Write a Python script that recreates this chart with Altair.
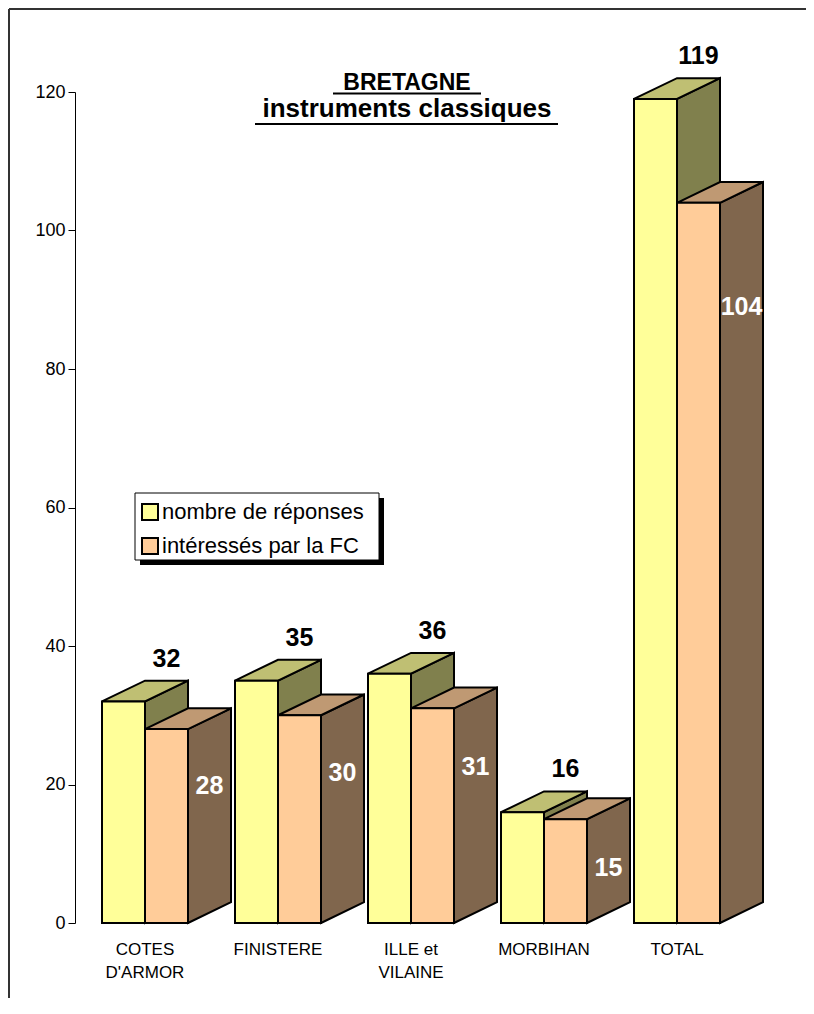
import altair as alt
import pandas as pd

# ---- data ----
categories = ["COTES D'ARMOR", "FINISTERE", "ILLE et VILAINE", "MORBIHAN", "TOTAL"]
cat_labels = ["COTES\nD'ARMOR", "FINISTERE", "ILLE et\nVILAINE", "MORBIHAN", "TOTAL"]
reponses = [32, 35, 36, 16, 119]
interesses = [28, 30, 31, 15, 104]
series_names = ["nombre de réponses", "intéressés par la FC"]
y_ticks = [0, 20, 40, 60, 80, 100, 120]
title_lines = ["BRETAGNE", "instruments classiques"]

# ---- layout constants ----
W, H = 731, 831
GROUP0, STEP, BW = 27, 133, 43   # x units = pixels from plot left
DX, DY = 43, 3.0                 # 3D depth (x pixels, y value units)
FONT = "Liberation Sans"

FRONT = ["#FFFF99", "#FFCC99"]
TOP = ["#BFBF73", "#BF9973"]
SIDE = ["#80804D", "#80664D"]

xscale = alt.Scale(domain=[0, W], nice=False, zero=False)
yscale = alt.Scale(domain=[0, 120], nice=False)
yaxis = alt.Axis(values=y_ticks, title=None, grid=False, domainColor="black",
                 tickColor="black", tickSize=7, labelFontSize=18, labelFont=FONT,
                 labelColor="black", labelPadding=3, domainWidth=1, tickWidth=1)


def geom(values, offset):
    fronts, sides, tops = [], [], []
    for i, v in enumerate(values):
        xl = GROUP0 + STEP * i + offset * BW
        xr = xl + BW
        fronts.append(dict(bar=i, x=xl, x2=xr, lo=0, hi=v))
        sides.append(dict(bar=i, x=xr, lo=0, hi=v))
        sides.append(dict(bar=i, x=xr + DX, lo=DY, hi=v + DY))
        for x in sorted(set([xl, xl + DX, xr, xr + DX])):
            lo = v + DY * max(0.0, min(1.0, (x - xr) / DX))
            hi = v + DY * max(0.0, min(1.0, (x - xl) / DX))
            tops.append(dict(bar=i, x=x, lo=lo, hi=hi))
    return pd.DataFrame(fronts), pd.DataFrame(sides), pd.DataFrame(tops)


def X(f):
    return alt.X(f, scale=xscale, axis=None, title=None)


def Y(f):
    return alt.Y(f, scale=yscale, axis=yaxis, title=None)


layers = []
for s, vals in enumerate([reponses, interesses]):
    fr, sd, tp = geom(vals, s)
    layers.append(alt.Chart(sd).mark_area(fill=SIDE[s], stroke="black", strokeWidth=2,
                                           strokeJoin="miter", opacity=1).encode(
        x=X("x:Q"), y=Y("lo:Q"), y2="hi:Q", detail="bar:N"))
    layers.append(alt.Chart(tp).mark_area(fill=TOP[s], stroke="black", strokeWidth=2,
                                           strokeJoin="miter", opacity=1).encode(
        x=X("x:Q"), y=Y("lo:Q"), y2="hi:Q", detail="bar:N"))
    layers.append(alt.Chart(fr).mark_rect(fill=FRONT[s], stroke="black", strokeWidth=2).encode(
        x=X("x:Q"), x2="x2:Q", y=Y("lo:Q"), y2="hi:Q"))

# value labels
lab_rep = pd.DataFrame(dict(
    x=[GROUP0 + STEP * i + BW + DX / 2 for i in range(len(reponses))],
    y=[v + DY for v in reponses],
    t=[str(v) for v in reponses]))
layers.append(alt.Chart(lab_rep).mark_text(font=FONT, fontSize=25, fontWeight="bold",
                                           color="black", baseline="alphabetic", dy=-14).encode(
    x=X("x:Q"), y=Y("y:Q"), text="t:N"))

lab_int = pd.DataFrame(dict(
    x=[GROUP0 + STEP * i + 2 * BW + DX / 2 for i in range(len(interesses))],
    y=[0.91 * v - 5.7 for v in interesses],
    t=[str(v) for v in interesses]))
layers.append(alt.Chart(lab_int).mark_text(font=FONT, fontSize=25, fontWeight="bold",
                                           color="white", baseline="middle").encode(
    x=X("x:Q"), y=Y("y:Q"), text="t:N"))

# category labels
cat_df = pd.DataFrame(dict(
    x=[GROUP0 + STEP * i + BW for i in range(len(categories))],
    t=cat_labels))
layers.append(alt.Chart(cat_df).mark_text(font=FONT, fontSize=17, color="black",
                                          baseline="alphabetic", lineBreak="\n",
                                          lineHeight=23).encode(
    x=X("x:Q"), y=alt.value(863), text="t:N"))

one = pd.DataFrame({"a": [0]})

# title with underlines
layers.append(alt.Chart(pd.DataFrame({"t": [title_lines[0]]})).mark_text(
    font=FONT, fontSize=23, fontWeight="bold", color="black", baseline="alphabetic").encode(
    x=alt.value(332), y=alt.value(-2), text="t:N"))
layers.append(alt.Chart(pd.DataFrame({"t": [title_lines[1]]})).mark_text(
    font=FONT, fontSize=26, fontWeight="bold", color="black", baseline="alphabetic").encode(
    x=alt.value(332), y=alt.value(25), text="t:N"))
layers.append(alt.Chart(one).mark_rule(color="black", strokeWidth=2).encode(
    x=alt.value(258), x2=alt.value(406), y=alt.value(1.5)))
layers.append(alt.Chart(one).mark_rule(color="black", strokeWidth=2).encode(
    x=alt.value(180), x2=alt.value(483), y=alt.value(32)))

# legend
layers.append(alt.Chart(one).mark_rect(fill="black").encode(
    x=alt.value(65), x2=alt.value(309), y=alt.value(406), y2=alt.value(473)))
layers.append(alt.Chart(one).mark_rect(fill="white", stroke="black", strokeWidth=1).encode(
    x=alt.value(60), x2=alt.value(304), y=alt.value(401), y2=alt.value(468)))
for k in range(2):
    layers.append(alt.Chart(one).mark_rect(fill=FRONT[k], stroke="black", strokeWidth=2).encode(
        x=alt.value(67), x2=alt.value(83), y=alt.value(412 + 34 * k), y2=alt.value(428 + 34 * k)))
    layers.append(alt.Chart(pd.DataFrame({"t": [series_names[k]]})).mark_text(
        font=FONT, fontSize=22, color="black", align="left", baseline="alphabetic").encode(
        x=alt.value(87), y=alt.value(427 + 34 * k), text="t:N"))

# frame (top and left edges)
layers.append(alt.Chart(one).mark_rule(color="#333333", strokeWidth=2).encode(
    x=alt.value(-66), x2=alt.value(W), y=alt.value(-83)))
layers.append(alt.Chart(one).mark_rule(color="#333333", strokeWidth=2).encode(
    x=alt.value(-66), y=alt.value(-83), y2=alt.value(H + 75)))

chart = alt.layer(*layers).properties(
    width=W, height=H, autosize="none",
    padding={"left": 67, "top": 84, "right": 0, "bottom": 75},
    background="white",
).configure_view(stroke=None)

chart.save("out.html", embed_options={"renderer": "svg", "actions": False})
